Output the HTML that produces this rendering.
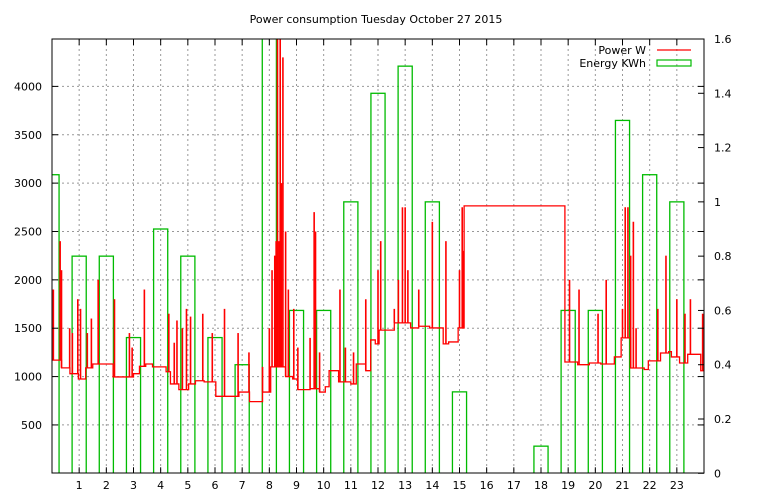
<!DOCTYPE html>
<html><head><meta charset="utf-8"><style>
html,body{margin:0;padding:0;background:#fff}
svg{display:block;font-family:"DejaVu Sans","Liberation Sans",sans-serif;font-size:11px}
</style></head><body>
<svg id="chart" width="768" height="500" viewBox="0 0 768 500">
<defs><clipPath id="plotclip"><rect x="52" y="39" width="652" height="434"/></clipPath></defs>
<text x="376" y="23" text-anchor="middle">Power consumption Tuesday October 27 2015</text>
<g id="grid"></g>
<g id="bars" clip-path="url(#plotclip)"></g>
<g id="power" clip-path="url(#plotclip)"></g>
<rect x="52" y="39" width="652" height="434" fill="none" stroke="#000" stroke-width="1"/>
<g id="axes"></g>
<g>
<text x="646" y="54" text-anchor="end">Power W</text>
<line x1="657" y1="50" x2="691" y2="50" stroke="#f00" stroke-width="1.2"/>
<text x="646" y="67" text-anchor="end">Energy KWh</text>
<rect x="657" y="60" width="34" height="6" fill="none" stroke="#0b0" stroke-width="1.2"/>
</g>
</svg>
<script>
const hours = [0,1,2,3,4,5,6,7,8,9,10,11,12,13,14,15,16,17,18,19,20,21,22,23];
const energyKWh = [1.1,0.8,0.8,0.5,0.9,0.8,0.5,0.4,2.0,0.6,0.6,1.0,1.4,1.5,1.0,0.3,0,0,0.1,0.6,0.6,1.3,1.1,1.0];
const powerStepTimes = [0,0.35,0.66,0.97,1.24,1.5,2.25,3.0,3.22,3.45,3.7,4.2,4.36,4.67,5.03,5.28,5.6,6.03,6.88,7.27,7.75,8.05,8.6,8.86,9.05,9.5,9.85,10.06,10.2,10.55,11.0,11.2,11.55,11.73,11.9,12.04,12.6,13.2,13.5,13.9,14.4,14.6,14.95,15.17,18.88,19.35,19.78,20.2,20.7,20.95,21.3,21.8,21.95,22.4,22.7,22.8,23.1,23.4,23.88,24];
const powerStepWatts = [1170,1090,1030,975,1090,1130,996,1030,1106,1130,1100,1050,924,865,924,957,945,796,840,741,840,1100,1000,975,865,875,840,895,1061,945,924,1130,1061,1379,1338,1480,1555,1503,1520,1503,1338,1358,1503,2765,1151,1123,1140,1130,1203,1400,1089,1073,1162,1244,1258,1203,1140,1230,1060,1060];
const spikeTimes = [0.05,0.3,0.35,0.65,0.75,0.95,1.05,1.3,1.45,1.7,2.3,2.85,2.95,3.4,4.3,4.5,4.6,4.8,4.95,5.1,5.55,5.9,6.35,6.85,7.25,7.75,8.0,8.1,8.2,8.25,8.3,8.35,8.4,8.45,8.5,8.6,8.7,8.9,9.05,9.5,9.65,9.7,9.85,10.6,10.8,11.1,11.55,12.0,12.1,12.6,12.75,12.9,13.0,13.1,13.5,14.0,14.5,15.0,15.1,15.15,19.05,19.4,20.1,20.4,21.0,21.1,21.2,21.3,21.4,21.5,22.3,22.6,23.0,23.3,23.5,23.95];
const spikeWatts = [1900,2400,2100,1500,1450,1800,1700,1450,1600,2000,1800,1450,1300,1900,1650,1350,1580,1500,1700,1620,1650,1450,1700,1450,1250,1100,1500,2100,2250,2400,4500,2400,4500,3000,4300,2500,1900,1700,1300,1400,2700,2500,1250,1900,1300,1250,1800,2100,2400,1700,2000,2750,2750,2100,1900,2600,2400,2100,2750,2300,2000,1900,1650,2000,1700,2750,2750,2250,2600,1500,1700,2250,1800,1650,1800,1650];
const leftTicks = [500,1000,1500,2000,2500,3000,3500,4000];
const rightTicks = [0,0.2,0.4,0.6,0.8,1,1.2,1.4,1.6];
const xTicks = [1,2,3,4,5,6,7,8,9,10,11,12,13,14,15,16,17,18,19,20,21,22,23];

const X0=52,X1=704,Y0=473.3,Y1=39;
const xs = h => X0 + (X1-X0)*h/24;
const yW = w => Y0 - (Y0-Y1)*w/4490;
const yE = e => Y0 - (Y0-Y1)*e/1.6;
const NS="http://www.w3.org/2000/svg";
function mk(tag, attrs, parent){const el=document.createElementNS(NS,tag);for(const k in attrs)el.setAttribute(k,attrs[k]);parent.appendChild(el);return el;}
const grid=document.getElementById('grid'), axes=document.getElementById('axes');
leftTicks.forEach(t=>{const y=yW(t);
 const g=mk('line',{x1:X0,x2:X1,y1:y,y2:y,stroke:'#999','stroke-dasharray':'2,3'},grid);
 
 
 const tk=mk('line',{x1:X0,x2:X0+6,y1:y,y2:y,stroke:'#000'},axes);
 
 
 const tk2=mk('line',{x1:X1-6,x2:X1,y1:y,y2:y,stroke:'#000'},axes);
 
 
 const tx=mk('text',{x:42,y:y+4,'text-anchor':'end'},axes);tx.textContent=t;
 
 
});
rightTicks.forEach(t=>{const y=yE(t);
 const tk=mk('line',{x1:X1-6,x2:X1,y1:y,y2:y,stroke:'#000'},axes);
 
 
 const tx=mk('text',{x:714,y:y+4},axes);tx.textContent=String(t);
 
 
});
xTicks.forEach(t=>{const x=xs(t);
 const g=mk('line',{x1:x,x2:x,y1:Y1,y2:Y0,stroke:'#999','stroke-dasharray':'2,3'},grid);
 
 
 const a=mk('line',{x1:x,x2:x,y1:Y0-6,y2:Y0,stroke:'#000'},axes);
 
 
 const b=mk('line',{x1:x,x2:x,y1:Y1,y2:Y1+6,stroke:'#000'},axes);
 
 
 const tx=mk('text',{x:x,y:489,'text-anchor':'middle'},axes);tx.textContent=t;
 
 
});
const bars=document.getElementById('bars');
hours.forEach((h,i)=>{const e=energyKWh[i]; if(e<=0)return;
 const xa=xs(h-0.26), xb=xs(h+0.26), y=yE(e);
 const r=mk('rect',{x:xa,y:y,width:xb-xa,height:Y0-y,fill:'none',stroke:'#0b0','stroke-width':1.3},bars);
 
 
});
const power=document.getElementById('power');
let d='';
powerStepTimes.forEach((t,i)=>{const x=xs(t),y=yW(powerStepWatts[i]);
 d+= i===0?`M${x},${y}`:`H${x}V${y}`;});
const p=mk('path',{d:d,fill:'none',stroke:'#f00','stroke-width':1.3},power);


function baseAt(t){let w=powerStepWatts[0];for(let i=0;i<powerStepTimes.length;i++){if(powerStepTimes[i]<=t)w=powerStepWatts[i];}return w;}
spikeTimes.forEach((t,i)=>{const x=xs(t);
 const s=mk('line',{x1:x,x2:x,y1:yW(baseAt(t)),y2:yW(spikeWatts[i]),stroke:'#f00','stroke-width':1.6},power);
 
 
});
</script>
</body></html>
